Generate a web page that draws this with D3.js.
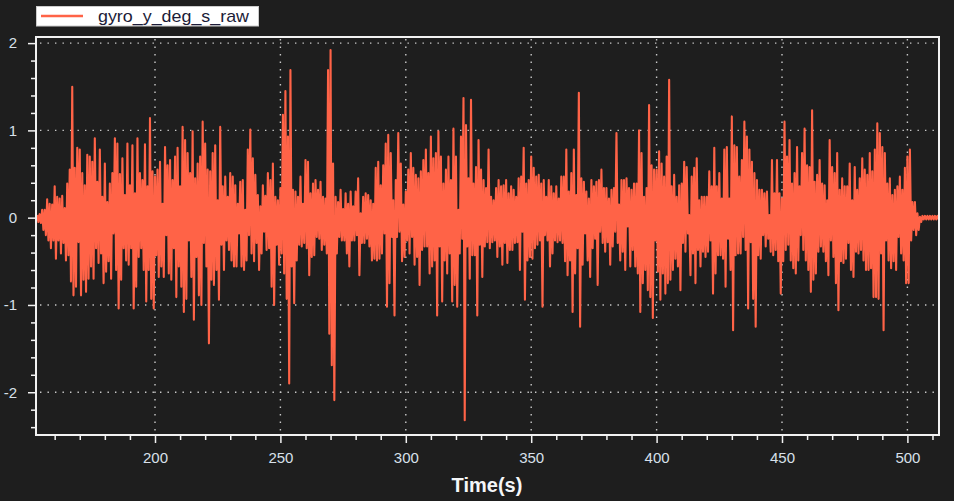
<!DOCTYPE html>
<html>
<head>
<meta charset="utf-8">
<script src="https://cdn.jsdelivr.net/npm/d3@7"></script>
<style>
  html, body { margin: 0; padding: 0; background: #1e1e1e; }
  svg { display: block; }
</style>
</head>
<body>
<svg id="chart" width="954" height="501"></svg>
<script>
// ---- data ----
const seriesName = "gyro_y_deg_s_raw";
const xTitle = "Time(s)";
const startTime = 153;   // s, first sample
const sampleStep = 1;    // s between samples
// positive excursion (upper envelope) of the signal in each 1 s sample
const upper = [
  0.03,0.04,0.09,0.09,0.21,0.16,0.15,0.36,0.24,0.22,0.25,0.11,0.39,0.55,1.50,0.57,0.80,0.78,0.51,0.37,
  0.72,0.70,0.64,0.91,0.41,0.78,0.24,0.62,0.18,0.39,0.51,0.91,0.85,0.50,0.68,0.26,0.85,0.37,0.83,0.28,
  0.91,0.51,0.43,0.84,0.36,1.14,0.53,0.47,0.55,0.64,0.16,0.81,0.60,0.66,0.43,0.70,0.80,0.36,1.04,0.89,
  0.74,0.51,0.99,0.45,0.62,0.70,1.10,0.85,0.55,0.53,0.74,0.83,0.20,1.04,0.36,0.47,0.24,0.51,0.47,0.37,
  0.16,0.41,0.43,0.09,0.78,1.01,0.68,0.49,0.26,0.13,0.37,0.25,0.51,0.43,0.62,0.24,0.20,0.34,1.18,1.45,
  0.93,1.69,0.32,0.30,0.24,0.47,0.16,0.66,0.64,0.28,0.39,0.43,0.32,0.41,0.24,0.22,1.69,1.92,0.62,0.24,
  0.18,0.32,0.10,0.28,0.16,0.30,0.13,0.30,0.45,0.05,0.24,0.28,0.26,0.20,0.16,0.57,0.64,0.37,0.60,0.85,
  0.95,0.74,0.20,0.43,0.97,0.62,0.15,0.30,0.55,0.74,0.57,0.49,0.45,0.53,0.66,0.78,0.51,0.93,0.68,0.74,
  0.99,0.70,0.39,0.55,0.70,0.43,1.02,0.70,0.09,0.93,1.37,1.06,0.45,1.35,0.39,0.58,0.89,0.55,0.43,0.34,
  0.78,0.24,0.20,0.34,0.43,0.36,0.37,0.43,0.28,0.36,0.32,0.24,0.45,0.47,0.80,0.39,0.43,0.70,0.57,0.47,
  0.49,0.39,0.43,0.24,0.43,0.36,0.28,0.36,0.22,0.47,0.47,0.78,0.30,0.51,0.78,0.26,1.43,0.45,0.41,0.30,
  0.22,0.43,0.36,0.41,0.43,0.55,0.34,0.34,0.22,0.32,0.34,0.97,0.15,0.43,0.43,0.45,0.34,0.32,0.39,
  0.39,1.00,0.74,0.24,0.34,1.29,0.60,0.55,0.55,0.76,0.62,0.47,0.70,1.58,0.36,0.49,0.24,0.37,0.39,0.64,
  0.58,0.03,0.47,0.57,0.68,0.20,0.24,0.24,0.24,0.53,0.36,0.80,0.36,0.51,0.22,0.78,0.81,0.22,1.16,0.83,
  0.81,0.47,0.66,1.10,0.93,0.78,0.64,0.51,0.43,0.32,0.32,0.28,0.30,0.03,0.66,0.28,0.66,0.28,0.22,1.10,
  0.70,0.89,0.39,0.51,0.81,0.36,0.74,1.02,0.60,0.58,1.23,0.41,0.49,0.66,0.39,0.37,0.20,0.89,0.58,0.51,
  0.74,0.32,0.45,0.36,0.36,0.62,0.20,0.58,0.32,0.45,0.68,0.55,0.49,0.74,0.53,0.78,1.08,0.97,0.81,0.74,
  0.39,0.45,0.26,0.32,0.36,0.47,0.32,0.57,0.70,0.78,0.18,0.18,0.05,0.01,
  0.02,0.02,0.02,0.02,0.02,0.02,0.02
];
// negative excursion (lower envelope) in the same samples
const lower = [
  -0.05,-0.06,-0.14,-0.20,-0.26,-0.35,-0.26,-0.47,-0.26,-0.41,-0.29,-0.49,-0.43,-0.73,-0.89,-0.79,-0.28,-0.89,-0.71,-0.85,
  -0.70,-0.56,-0.70,-0.35,-0.52,-0.41,-0.75,-0.62,-0.50,-0.70,-0.18,-0.60,-1.04,-0.71,-0.35,-0.49,-0.54,-0.35,-1.04,-0.79,
  -0.45,-0.35,-0.60,-0.96,-0.60,-0.93,-1.04,-0.43,-0.68,-0.56,-0.68,-0.20,-0.64,-0.71,-0.35,-0.91,-0.56,-0.79,-1.08,-0.93,
  -0.26,-0.68,-1.17,-0.45,-0.89,-1.00,-0.29,-0.56,-1.44,-0.71,-0.77,-0.60,-0.94,-0.31,-0.60,-0.26,-0.37,-0.49,-0.56,-0.56,
  -0.18,-0.56,-0.60,-0.49,-0.20,-0.41,-0.50,-0.29,-0.60,-0.41,-0.16,-0.37,-0.35,-0.79,-1.00,-0.31,-0.54,-0.41,-0.64,-0.93,
  -1.90,-0.56,-0.98,-0.49,-0.31,-0.33,-0.29,-0.35,-0.66,-0.45,-0.43,-0.22,-0.24,-0.37,-0.31,-0.41,-1.33,-1.69,-2.09,-0.41,
  -0.22,-0.26,-0.26,-0.41,-0.56,-0.26,-0.26,-0.20,-0.66,-0.29,-0.29,-0.24,-0.33,-0.49,-0.47,-0.49,-0.47,-0.41,-0.18,-1.02,
  -0.75,-0.22,-1.12,-0.22,-0.16,-0.50,-0.45,-0.26,-0.41,-0.22,-0.54,-0.45,-0.77,-0.37,-0.33,-0.33,-0.64,-0.56,-0.49,-1.12,
  -0.33,-0.96,-0.49,-0.64,-0.41,-0.96,-0.77,-1.02,-0.41,-0.24,-2.32,-0.33,-0.70,-0.43,-0.43,-1.12,-0.31,-0.68,-0.33,-0.28,
  -0.35,-0.28,-0.26,-0.45,-0.33,-0.54,-0.29,-0.52,-0.37,-0.37,-0.29,-0.28,-0.60,-0.16,-0.94,-0.49,-0.45,-0.47,-0.35,-0.31,
  -0.26,-1.02,-0.20,-0.26,-0.56,-0.41,-0.26,-0.28,-0.26,-0.29,-0.50,-0.66,-0.49,-1.08,-0.64,-0.35,-1.25,-0.54,-0.18,-0.49,
  -0.68,-0.35,-0.24,-0.77,-0.16,-0.29,-0.39,-0.28,-0.54,-0.33,-0.16,-0.29,-0.49,-0.39,-0.60,-0.10,-0.56,-0.37,-0.56,
  -0.64,-1.08,-0.75,-0.60,-0.83,-0.91,-1.15,-0.26,-0.62,-0.94,-0.64,-0.87,-0.75,-0.71,-0.60,-0.47,-0.56,-0.83,-0.29,-0.39,
  -0.18,-0.66,-0.41,-0.75,-0.37,-0.56,-0.39,-0.45,-0.39,-0.26,-0.87,-0.64,-0.43,-0.43,-0.47,-0.79,-0.24,-0.60,-1.29,-0.43,
  -0.41,-0.41,-0.22,-0.37,-1.04,-0.28,-0.93,-1.25,-0.43,-0.47,-0.20,-0.33,-0.24,-0.39,-0.43,-0.37,-0.50,-0.87,-0.50,-0.37,
  -0.31,-0.49,-0.58,-0.64,-0.49,-0.20,-0.37,-0.49,-0.60,-0.85,-0.71,-0.64,-0.39,-0.33,-0.39,-0.50,-0.66,-0.26,-0.45,-0.75,
  -1.06,-0.50,-0.52,-0.47,-0.29,-0.60,-0.68,-0.39,-0.41,-0.37,-0.49,-0.60,-0.60,-0.58,-0.91,-0.91,-0.93,-0.41,-1.29,-0.26,
  -0.49,-0.58,-0.50,-0.60,-0.22,-0.41,-0.49,-0.75,-0.75,-0.26,-0.14,-0.20,-0.14,-0.05,
  -0.02,-0.02,-0.02,-0.02,-0.02,-0.02,-0.02
];
const xMajorTicks = [200, 250, 300, 350, 400, 450, 500];
const xMinorTicks = [160,170,180,190,210,220,230,240,260,270,280,290,310,320,330,340,360,370,380,390,410,420,430,440,460,470,480,490,510];
const yMajorTicks = [-2, -1, 0, 1, 2];
const yMinorTicks = [-2.4,-2.2,-1.8,-1.6,-1.4,-1.2,-0.8,-0.6,-0.4,-0.2,0.2,0.4,0.6,0.8,1.2,1.4,1.6,1.8];

// ---- layout ----
const W = 954, H = 501;
const plot = { left: 36, right: 939, top: 37, bottom: 435 };
const lineColor = "#ff6347";
const labelColor = "#d8e0ea";
const font = "'Liberation Sans', Arial, sans-serif";

const svg = d3.select("#chart");
svg.append("rect").attr("width", W).attr("height", H).attr("fill", "#1e1e1e");

const x = d3.scaleLinear().domain([152.55, 512.6]).range([plot.left, plot.right]);
const y = d3.scaleLinear().domain([-2.49, 2.07]).range([plot.bottom, plot.top]);

// grid
const grid = svg.append("g").attr("stroke", "#c8c8c8").attr("stroke-width", 1.4)
  .attr("stroke-dasharray", "1.4 6.1");
grid.selectAll("line.v").data(xMajorTicks).join("line").attr("class", "v")
  .attr("x1", d => x(d)).attr("x2", d => x(d)).attr("y1", plot.top + 2).attr("y2", plot.bottom);
grid.selectAll("line.h").data(yMajorTicks).join("line").attr("class", "h")
  .attr("y1", d => y(d)).attr("y2", d => y(d)).attr("x1", plot.left + 4).attr("x2", plot.right);

// data line: each sample contributes its upper then lower excursion
const pts = [];
upper.forEach((u, i) => {
  const t = startTime + i * sampleStep;
  pts.push([t, u]);
  pts.push([t + sampleStep / 2, lower[i]]);
});
svg.append("clipPath").attr("id", "clip").append("rect")
  .attr("x", plot.left).attr("y", plot.top)
  .attr("width", plot.right - plot.left).attr("height", plot.bottom - plot.top);
svg.append("path")
  .attr("clip-path", "url(#clip)")
  .attr("d", d3.line().x(d => x(d[0])).y(d => y(d[1]))(pts))
  .attr("fill", "none").attr("stroke", lineColor).attr("stroke-width", 2.1)
  .attr("stroke-linejoin", "round");

// frame
svg.append("rect").attr("x", plot.left).attr("y", plot.top)
  .attr("width", plot.right - plot.left).attr("height", plot.bottom - plot.top)
  .attr("fill", "none").attr("stroke", "#f2f2f2").attr("stroke-width", 2);

// axes
function styleAxis(g) {
  g.select(".domain").remove();
  g.selectAll(".tick line").attr("stroke", "#f2f2f2").attr("stroke-width", 1.5);
  g.selectAll(".tick text").attr("fill", labelColor).attr("font-family", font).attr("font-size", 15);
}
svg.append("g").attr("transform", `translate(${plot.left - 1},0)`)
  .call(d3.axisLeft(y).tickValues(yMajorTicks).tickSize(7).tickPadding(11).tickFormat(d => String(d)))
  .call(styleAxis);
svg.append("g").attr("transform", `translate(${plot.left - 1},0)`)
  .call(d3.axisLeft(y).tickValues(yMinorTicks).tickSize(4).tickFormat(""))
  .call(styleAxis);
svg.append("g").attr("transform", `translate(0,${plot.bottom + 1})`)
  .call(d3.axisBottom(x).tickValues(xMajorTicks).tickSize(7).tickPadding(9).tickFormat(d => String(d)))
  .call(styleAxis);
svg.append("g").attr("transform", `translate(0,${plot.bottom + 1})`)
  .call(d3.axisBottom(x).tickValues(xMinorTicks).tickSize(4).tickFormat(""))
  .call(styleAxis);

// x title
svg.append("text").attr("x", 487).attr("y", 492).attr("text-anchor", "middle")
  .attr("font-family", font).attr("font-weight", "bold").attr("font-size", 20)
  .attr("fill", "#f4f6f8").text(xTitle);

// legend
const lg = svg.append("g");
lg.append("rect").attr("x", 36.5).attr("y", 6.5).attr("width", 222).attr("height", 19.5)
  .attr("fill", "#ffffff").attr("stroke", "#cccccc").attr("stroke-width", 1);
lg.append("line").attr("x1", 41).attr("x2", 83).attr("y1", 16).attr("y2", 16)
  .attr("stroke", lineColor).attr("stroke-width", 2.5);
lg.append("text").attr("x", 98).attr("y", 22).attr("font-family", font).attr("font-size", 17)
  .attr("fill", "#1c1c38").attr("textLength", 151).attr("lengthAdjust", "spacingAndGlyphs")
  .text(seriesName);
</script>
</body>
</html>
